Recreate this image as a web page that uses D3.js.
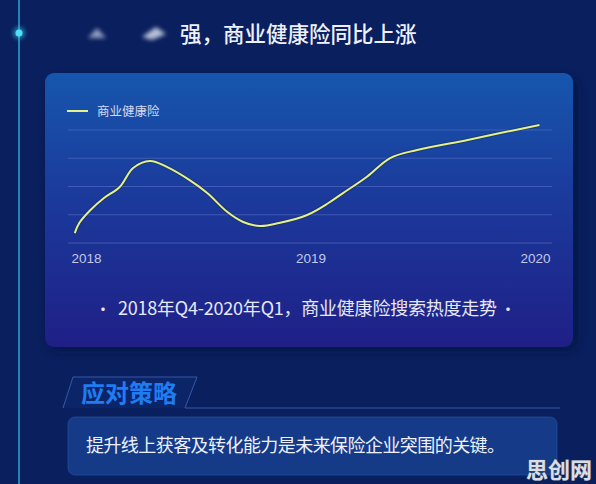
<!DOCTYPE html>
<html>
<head>
<meta charset="utf-8">
<script src="https://cdn.jsdelivr.net/npm/d3@7"></script>
<style>
  body { margin: 0; background: #0a1f5e; }
  svg { display: block; font-family: "Noto Sans CJK SC", "Noto Sans", sans-serif; }
</style>
</head>
<body>
<div id="chart"></div>
<script>
// search heat of commercial health insurance
var years = [2017.95, 2017.97, 2018.02, 2018.08, 2018.15, 2018.21, 2018.285, 2018.36, 2018.46, 2018.54, 2018.63, 2018.70, 2018.775, 2018.86, 2018.985, 2019.08, 2019.145, 2019.25, 2019.355, 2019.475, 2019.70, 2019.845, 2020.02];
var heat = [8.8, 17.7, 29.2, 39.8, 49.6, 66.4, 72.6, 67.3, 55.8, 44.2, 27.4, 18.6, 15, 17.7, 24.8, 35.4, 44.2, 58.4, 75.2, 82.3, 91.2, 97.3, 104.4];
var tickYears = [2018, 2019, 2020];
var gridValues = [0, 25, 50, 75, 100];
var seriesName = "商业健康险";

var width = 596, height = 484;

var svg = d3.select("#chart").append("svg")
    .attr("width", width)
    .attr("height", height);

var defs = svg.append("defs");
var grad = defs.append("linearGradient").attr("id", "panelGrad")
    .attr("x1", 0).attr("y1", 0).attr("x2", 0).attr("y2", 1);
grad.append("stop").attr("offset", "0%").attr("stop-color", "#1656ad");
grad.append("stop").attr("offset", "45%").attr("stop-color", "#1b3a9c");
grad.append("stop").attr("offset", "100%").attr("stop-color", "#1f1f86");

var blur = defs.append("filter").attr("id", "blur")
    .attr("x", "-50%").attr("y", "-50%").attr("width", "200%").attr("height", "200%");
blur.append("feGaussianBlur").attr("stdDeviation", 4);

var soft = defs.append("filter").attr("id", "soft")
    .attr("x", "-50%").attr("y", "-50%").attr("width", "200%").attr("height", "200%");
soft.append("feGaussianBlur").attr("stdDeviation", 2);

// background
svg.append("rect").attr("width", width).attr("height", height).attr("fill", "#0a1f5e");

// left timeline
svg.append("line")
    .attr("x1", 19).attr("x2", 19).attr("y1", 0).attr("y2", height)
    .attr("stroke", "#2aa9d8").attr("stroke-width", 1.5);
svg.append("circle").attr("cx", 19).attr("cy", 33).attr("r", 6)
    .attr("fill", "#3fd8f2").attr("opacity", 0.5).attr("filter", "url(#soft)");
svg.append("circle").attr("cx", 19).attr("cy", 33).attr("r", 3.5).attr("fill", "#4fe0f5");

// blurred bits in front of the title
svg.append("path").attr("d", "M88,38 L97,28 L106,38 Z")
    .attr("fill", "#c9d3ea").attr("opacity", 0.7).attr("filter", "url(#soft)");
svg.append("path").attr("d", "M142,37 L156,27 L166,34 L152,40 Z")
    .attr("fill", "#e2e8f6").attr("opacity", 0.8).attr("filter", "url(#soft)");

svg.append("text")
    .attr("x", 180).attr("y", 42)
    .attr("fill", "#eef1fb")
    .attr("font-size", 21.5)
    .attr("font-weight", 500)
    .text("强，商业健康险同比上涨");

// chart panel
svg.append("rect")
    .attr("x", 48).attr("y", 77).attr("width", 530).attr("height", 274).attr("rx", 10)
    .attr("fill", "#06143f").attr("opacity", 0.7).attr("filter", "url(#blur)");
svg.append("rect")
    .attr("x", 45).attr("y", 73).attr("width", 528).attr("height", 274).attr("rx", 9)
    .attr("fill", "url(#panelGrad)");

var x = d3.scaleLinear().domain([2018, 2020]).range([86, 535]);
var y = d3.scaleLinear().domain([0, 100]).range([243, 130]);

var g = svg.append("g");

g.selectAll(".grid")
    .data(gridValues)
    .enter().append("line")
    .attr("class", "grid")
    .attr("x1", 68).attr("x2", 552)
    .attr("y1", function (d) { return y(d); })
    .attr("y2", function (d) { return y(d); })
    .attr("stroke", "#5a6fc4").attr("stroke-opacity", 0.6).attr("stroke-width", 1);

var xAxis = g.append("g")
    .attr("transform", "translate(0,243)")
    .call(d3.axisBottom(x).tickValues(tickYears).tickFormat(d3.format("d")).tickSize(0).tickPadding(10));
xAxis.select(".domain").remove();
xAxis.selectAll("text")
    .attr("fill", "#c3c8e8")
    .attr("font-size", 13.5)
    .attr("font-family", "Liberation Sans, sans-serif");

var line = d3.line()
    .x(function (d, i) { return x(years[i]); })
    .y(function (d) { return y(d); })
    .curve(d3.curveCatmullRom.alpha(0.5));

g.append("path")
    .datum(heat)
    .attr("fill", "none")
    .attr("stroke", "#1a2a40")
    .attr("stroke-width", 4)
    .attr("stroke-opacity", 0.4)
    .attr("d", line);
g.append("path")
    .datum(heat)
    .attr("fill", "none")
    .attr("stroke", "#e4f08a")
    .attr("stroke-width", 2)
    .attr("d", line);

// legend
svg.append("line")
    .attr("x1", 67).attr("x2", 88).attr("y1", 111).attr("y2", 111)
    .attr("stroke", "#e4f08a").attr("stroke-width", 2);
svg.append("text")
    .attr("x", 97).attr("y", 115.5)
    .attr("fill", "#d6daf0")
    .attr("font-size", 12.5)
    .text(seriesName);

// caption
svg.append("text")
    .attr("x", 103).attr("y", 315)
    .attr("text-anchor", "middle")
    .attr("fill", "#e6e9f7")
    .attr("font-size", 16)
    .text("·");
svg.append("text")
    .attr("x", 118).attr("y", 315)
    .attr("fill", "#e6e9f7")
    .attr("font-size", 18)
    .attr("textLength", 379)
    .text("2018年Q4-2020年Q1，商业健康险搜索热度走势");
svg.append("text")
    .attr("x", 508).attr("y", 315)
    .attr("text-anchor", "middle")
    .attr("fill", "#e6e9f7")
    .attr("font-size", 16)
    .text("·");

// strategy section
svg.append("path")
    .attr("d", "M63,408 L73,377 L197,377 L185,408 Z")
    .attr("fill", "#0d2a70").attr("opacity", 0.6);
svg.append("path")
    .attr("d", "M63,408 L73,377 L197,377 L185,408 L560,408")
    .attr("fill", "none")
    .attr("stroke", "#3559a8").attr("stroke-width", 1);
svg.append("text")
    .attr("x", 81).attr("y", 402)
    .attr("fill", "#1f7cf2")
    .attr("font-size", 24)
    .attr("font-weight", "bold")
    .text("应对策略");

svg.append("rect")
    .attr("x", 68).attr("y", 417).attr("width", 489).attr("height", 58).attr("rx", 7)
    .attr("fill", "#143a88").attr("stroke", "#2a56a8").attr("stroke-opacity", 0.6);
svg.append("text")
    .attr("x", 86).attr("y", 452)
    .attr("fill", "#eef1fb")
    .attr("font-size", 18)
    .attr("textLength", 419)
    .text("提升线上获客及转化能力是未来保险企业突围的关键。");

// watermark
svg.append("text")
    .attr("x", 592).attr("y", 478)
    .attr("text-anchor", "end")
    .attr("fill", "#d9dde6")
    .attr("stroke", "#3a4a66").attr("stroke-width", 1)
    .attr("paint-order", "stroke")
    .attr("font-size", 22)
    .attr("font-weight", "bold")
    .text("思创网");
</script>
</body>
</html>
